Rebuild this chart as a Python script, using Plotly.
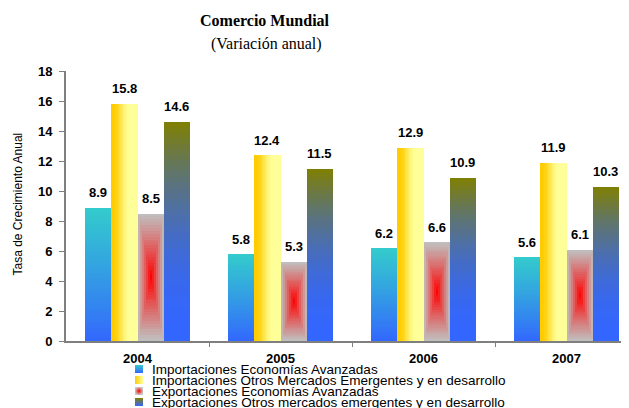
import numpy as np
import plotly.graph_objects as go

# ---------------- data ----------------
years = ["2004", "2005", "2006", "2007"]
series_names = [
    "Importaciones Economías Avanzadas",
    "Importaciones Otros Mercados Emergentes y en desarrollo",
    "Exportaciones Economías Avanzadas",
    "Exportaciones Otros mercados emergentes y en desarrollo",
]
imp_avanzadas = [8.9, 5.8, 6.2, 5.6]
imp_emergentes = [15.8, 12.4, 12.9, 11.9]
exp_avanzadas = [8.5, 5.3, 6.6, 6.1]
exp_emergentes = [14.6, 11.5, 10.9, 10.3]
y_ticks = [0, 2, 4, 6, 8, 10, 12, 14, 16, 18]

title = "Comercio Mundial"
subtitle = "(Variación anual)"
y_title = "Tasa de Crecimiento Anual"

# ---------------- style / layout (page pixels) ----------------
OFF = 8                      # default body margin of the page
WF, HF = 621, 400            # figure size
PLOT_L, PLOT_R = 66, 629     # page px
PLOT_T, PLOT_B = 71, 341     # page px
CAT_PX = 143.0
X_RANGE = [-0.5, -0.5 + (PLOT_R - PLOT_L) / CAT_PX]
GROUP = 0.734
BW = GROUP / 4


def fx(px):
    return (px - OFF) / WF


def fy(py):
    return 1 - (py - OFF) / HF


CYAN = (51, 204, 204)
BLUE = (51, 102, 255)
GOLD = (255, 204, 0)
PALE = (255, 255, 153)
GRAY = (192, 192, 192)
RED = (255, 0, 0)
OLIVE = (128, 128, 0)


def mix(c1, c2, w):
    return "rgb(%d,%d,%d)" % tuple(round(a + (b - a) * w) for a, b in zip(c1, c2))


def smooth(a, b, x):
    t = min(1.0, max(0.0, (x - a) / (b - a)))
    return t * t * (3 - 2 * t)


def col_s1(u, t):
    return mix(BLUE, CYAN, t ** 0.9)


def col_s2(u, t):
    return mix(GOLD, PALE, smooth(0.05, 0.7, u))


def col_s3(u, t):
    dx = abs(u - 0.5) * 2
    dy = abs(t - 0.5) * 2
    r = min(1.0, max(dx, dy))
    w = (1 - r) ** 1.1
    return mix(GRAY, RED, w)


def col_s4(u, t):
    return mix(BLUE, OLIVE, t ** 2)


def gradient_bars(values, j, nx, ny, colfn):
    xs, ws, bases, hs, cols = [], [], [], [], []
    for i, v in enumerate(values):
        left = i - GROUP / 2 + j * BW
        right = left + BW
        for ky in range(ny):
            b = v * ky / ny
            for kx in range(nx):
                l = left + BW * kx / nx
                xs.append((l + right) / 2)
                ws.append(right - l)
                bases.append(b)
                hs.append(v - b)
                cols.append(colfn((kx + 0.5) / nx, (ky + 0.5) / ny))
    return go.Bar(
        x=xs, y=hs, base=bases, width=ws,
        marker=dict(color=cols, line=dict(width=0)),
        showlegend=False, hoverinfo="skip", xaxis="x", yaxis="y",
    )


all_series = [imp_avanzadas, imp_emergentes, exp_avanzadas, exp_emergentes]
fig = go.Figure()
fig.add_trace(gradient_bars(imp_avanzadas, 0, 1, 40, col_s1))
fig.add_trace(gradient_bars(imp_emergentes, 1, 20, 1, col_s2))
fig.add_trace(gradient_bars(exp_avanzadas, 2, 13, 44, col_s3))
fig.add_trace(gradient_bars(exp_emergentes, 3, 1, 40, col_s4))

annotations = []
# value labels
for j, vals in enumerate(all_series):
    for i, v in enumerate(vals):
        annotations.append(dict(
            x=i - GROUP / 2 + (j + 0.5) * BW, y=v, xref="x", yref="y",
            text="<b>%.1f</b>" % v, showarrow=False, yshift=15, yanchor="middle",
            font=dict(family="Liberation Sans, Arial", size=13, color="#000000"),
        ))

# legend (custom, compact rows) -- x2/y2 use page pixels
leg_rows = [369, 380, 391, 402]
leg_marker = [
    dict(color="#33CCCC", gradient=dict(type="vertical", color="#3366FF")),
    dict(color="#FFCC00", gradient=dict(type="horizontal", color="#FFFF99")),
    dict(color="#C8C8C8", gradient=dict(type="radial", color="#FF0000")),
    dict(color="#808000", gradient=dict(type="vertical", color="#3366FF")),
]
for k, name in enumerate(series_names):
    m = dict(symbol="square", size=8, line=dict(width=0))
    m.update(leg_marker[k])
    fig.add_trace(go.Scatter(
        x=[139], y=[leg_rows[k]], mode="markers", marker=m,
        xaxis="x2", yaxis="y2", showlegend=False, hoverinfo="skip",
    ))
    annotations.append(dict(
        x=150, y=leg_rows[k], xref="x2", yref="y2", text=name,
        showarrow=False, xanchor="left", yanchor="middle",
        font=dict(family="Liberation Sans, Arial", size=13.5, color="#000000"),
    ))

# titles
annotations.append(dict(
    x=fx(265), y=fy(21), xref="paper", yref="paper", text="<b>%s</b>" % title,
    showarrow=False, xanchor="center", yanchor="middle",
    font=dict(family="Liberation Serif, Times New Roman", size=16, color="#000000"),
))
annotations.append(dict(
    x=fx(266), y=fy(44), xref="paper", yref="paper", text=subtitle,
    showarrow=False, xanchor="center", yanchor="middle",
    font=dict(family="Liberation Serif, Times New Roman", size=16, color="#000000"),
))
annotations.append(dict(
    x=fx(17.5), y=fy(204), xref="paper", yref="paper", text=y_title,
    showarrow=False, xanchor="center", yanchor="middle", textangle=-90,
    font=dict(family="Liberation Sans, Arial", size=12, color="#000000"),
))

tick_font = dict(family="Liberation Sans, Arial", size=13, color="#000000")

fig.update_layout(
    template="none",
    width=WF, height=HF, autosize=False,
    margin=dict(l=0, r=0, t=0, b=0, pad=0, autoexpand=False),
    paper_bgcolor="white", plot_bgcolor="rgba(0,0,0,0)",
    barmode="overlay", bargap=0,
    showlegend=False,
    annotations=annotations,
    xaxis=dict(
        domain=[fx(PLOT_L), min(1.0, fx(PLOT_R))], range=X_RANGE, anchor="y",
        automargin=False,
        tickmode="array", tickvals=list(range(len(years))),
        ticktext=["<b>%s</b>" % y for y in years],
        ticks="", ticklabelstandoff=4, tickfont=tick_font,
        showline=True, linecolor="#7F7F7F", linewidth=2,
        showgrid=False, zeroline=False, fixedrange=True,
        minor=dict(tickmode="array", tickvals=[0.5, 1.5, 2.5], ticks="outside",
                   ticklen=4, tickcolor="#7F7F7F", tickwidth=1, showgrid=False),
    ),
    yaxis=dict(
        domain=[fy(PLOT_B), fy(PLOT_T)], range=[0, 18], anchor="x", automargin=False,
        tickmode="array", tickvals=y_ticks,
        ticktext=["<b>%d</b>" % v for v in y_ticks],
        ticks="outside", ticklen=5, tickcolor="#7F7F7F", tickwidth=1,
        ticklabelstandoff=4, tickfont=tick_font,
        showline=True, linecolor="#7F7F7F", linewidth=2,
        showgrid=False, zeroline=False, fixedrange=True,
    ),
    xaxis2=dict(domain=[0, 1], range=[OFF, OFF + WF], anchor="y2", visible=False,
                fixedrange=True, automargin=False),
    yaxis2=dict(domain=[0, 1], range=[OFF + HF, OFF], anchor="x2", visible=False,
                fixedrange=True, automargin=False),
)

fig.write_html("out.html")
